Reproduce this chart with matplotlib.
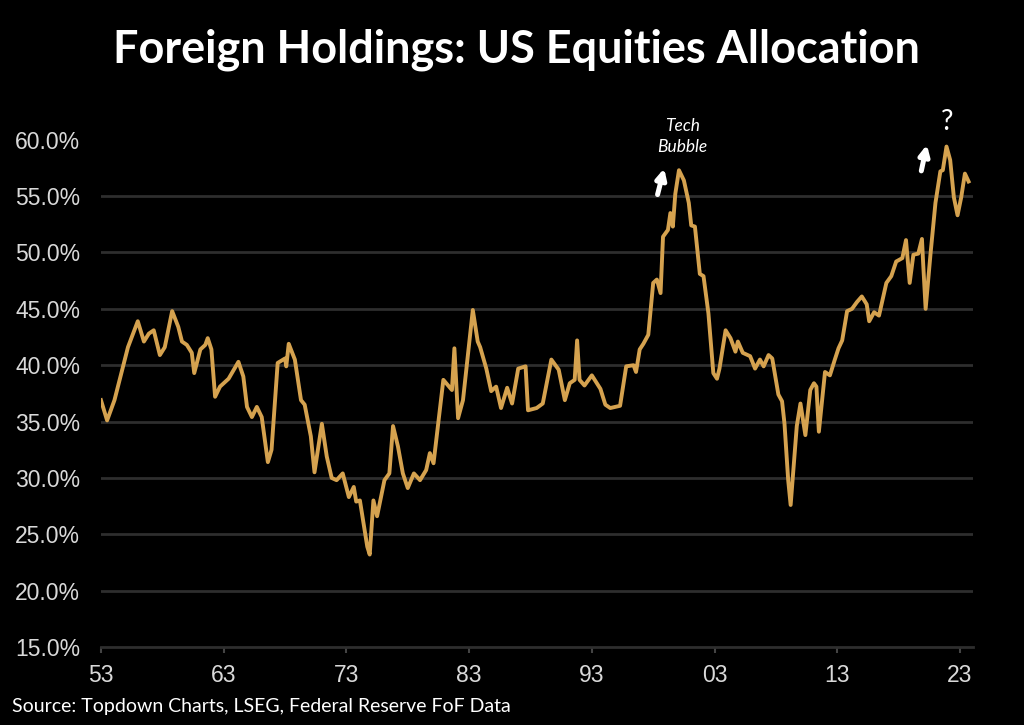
import matplotlib
matplotlib.use("Agg")
import matplotlib.pyplot as plt
from matplotlib.ticker import FuncFormatter

# valeurs (année décimale, part en %)
years = [1953.0, 1953.5, 1954.1, 1955.2, 1956.0, 1956.5, 1956.9, 1957.3, 1957.8, 1958.2,
         1958.8, 1959.3, 1959.6, 1960.0, 1960.4, 1960.6, 1961.1, 1961.5, 1961.7, 1962.0,
         1962.3, 1962.7, 1963.4, 1964.2, 1964.6, 1964.9, 1965.3, 1965.7, 1966.1, 1966.6,
         1966.9, 1967.4, 1968.0, 1968.1, 1968.3, 1968.8, 1969.3, 1969.6, 1970.1, 1970.4,
         1971.0, 1971.4, 1971.8, 1972.2, 1972.7, 1973.2, 1973.6, 1973.8, 1974.1, 1974.7,
         1974.9, 1975.2, 1975.5, 1976.1, 1976.5, 1976.8, 1977.2, 1977.6, 1978.0, 1978.5,
         1979.0, 1979.5, 1979.8, 1980.1, 1980.9, 1981.6, 1981.8, 1982.1, 1982.5, 1983.3,
         1983.7, 1983.9, 1984.4, 1984.8, 1985.2, 1985.6, 1986.1, 1986.5, 1987.0, 1987.6,
         1987.8, 1988.5, 1989.0, 1989.7, 1990.3, 1990.8, 1991.2, 1991.6, 1991.8, 1992.0,
         1992.4, 1993.0, 1993.7, 1994.1, 1994.5, 1995.3, 1995.8, 1996.4, 1996.6, 1996.9,
         1997.2, 1997.6, 1998.0, 1998.3, 1998.6, 1998.8, 1999.2, 1999.4, 1999.6, 1999.8,
         2000.1, 2000.5, 2000.9, 2001.1, 2001.4, 2001.8, 2002.1, 2002.5, 2002.9, 2003.2,
         2003.4, 2003.9, 2004.3, 2004.7, 2004.9, 2005.3, 2005.9, 2006.3, 2006.7, 2007.0,
         2007.4, 2007.7, 2008.2, 2008.5, 2008.7, 2009.0, 2009.2, 2009.4, 2009.7, 2010.0,
         2010.4, 2010.8, 2011.1, 2011.3, 2011.5, 2012.0, 2012.4, 2012.8, 2013.1, 2013.4,
         2013.8, 2014.2, 2014.6, 2015.0, 2015.4, 2015.6, 2016.0, 2016.4, 2017.0, 2017.4,
         2017.8, 2018.3, 2018.6, 2018.9, 2019.2, 2019.6, 2019.9, 2020.0, 2020.2, 2020.6,
         2021.0, 2021.4, 2021.6, 2021.9, 2022.2, 2022.5, 2022.8, 2023.1, 2023.4, 2023.7]
share = [36.9, 35.1, 36.9, 41.6, 43.9, 42.1, 42.8, 43.1, 40.9, 41.6,
         44.8, 43.4, 42.1, 41.8, 41.1, 39.3, 41.4, 41.8, 42.4, 41.4,
         37.2, 38.1, 38.8, 40.3, 39.0, 36.3, 35.4, 36.3, 35.4, 31.4,
         32.5, 40.2, 40.6, 39.9, 41.9, 40.5, 36.9, 36.5, 33.7, 30.5,
         34.8, 31.9, 30.0, 29.8, 30.4, 28.3, 29.2, 27.9, 28.0, 23.9,
         23.2, 28.0, 26.6, 29.8, 30.4, 34.6, 32.8, 30.4, 29.1, 30.4,
         29.8, 30.7, 32.2, 31.3, 38.7, 37.8, 41.5, 35.3, 36.9, 44.9,
         42.1, 41.6, 39.7, 37.7, 38.1, 36.2, 38.0, 36.6, 39.7, 39.9,
         36.0, 36.2, 36.6, 40.5, 39.6, 36.9, 38.4, 38.7, 42.2, 38.7,
         38.2, 39.1, 37.9, 36.5, 36.2, 36.4, 39.9, 40.0, 39.4, 41.4,
         41.9, 42.7, 47.3, 47.6, 46.4, 51.4, 52.0, 53.5, 52.3, 55.2,
         57.3, 56.4, 54.4, 52.4, 52.3, 48.1, 47.9, 44.6, 39.3, 38.8,
         39.7, 43.1, 42.4, 41.2, 42.1, 41.1, 40.8, 39.7, 40.5, 39.9,
         40.9, 40.6, 37.4, 36.8, 34.8, 29.8, 27.6, 30.4, 34.6, 36.6,
         33.8, 37.8, 38.4, 38.1, 34.1, 39.4, 39.1, 40.5, 41.5, 42.2,
         44.8, 45.0, 45.6, 46.1, 45.4, 43.9, 44.7, 44.4, 47.3, 47.9,
         49.2, 49.5, 51.1, 47.3, 49.8, 49.9, 51.2, 49.0, 45.0, 49.9,
         54.4, 57.2, 57.3, 59.4, 58.2, 54.9, 53.3, 54.9, 57.0, 56.3]

x_ticks = [1953, 1963, 1973, 1983, 1993, 2003, 2013, 2023]
x_labels = ["53", "63", "73", "83", "93", "03", "13", "23"]
y_ticks = [15, 20, 25, 30, 35, 40, 45, 50, 55, 60]

gold = '#d5a24f'
grid_col = '#2e2e2e'

fig = plt.figure(figsize=(10.24, 7.25), dpi=100, facecolor='black')
ax = fig.add_axes([0.0986, 0.1076, 0.8516, 0.6996])
ax.set_facecolor('black')

# grille horizontale (sauf 60%)
for v in y_ticks[1:-1]:
    ax.axhline(v, color=grid_col, lw=2.0, zorder=1)

ax.plot(years, share, color=gold, lw=2.8, solid_joinstyle='round', zorder=3)

ax.set_xlim(1953, 2024.06)
ax.set_ylim(15, 60)
ax.set_yticks(y_ticks)
ax.yaxis.set_major_formatter(FuncFormatter(lambda v, p: f"{v:.1f}%"))
ax.set_xticks(x_ticks)
ax.set_xticklabels(x_labels)

for s in ['top', 'right', 'left']:
    ax.spines[s].set_visible(False)
ax.spines['bottom'].set_color(grid_col)
ax.spines['bottom'].set_linewidth(2.0)

ax.tick_params(axis='y', length=0, pad=15, colors='#d9d9d9', labelsize=16.5)
ax.tick_params(axis='x', length=4, width=1.5, color='#444444', pad=8,
               labelcolor='#d9d9d9', labelsize=16.5)
for lab in ax.get_xticklabels() + ax.get_yticklabels():
    lab.set_family('Liberation Sans')

# annotations
ax.text(2000.4, 60.3, "Tech\nBubble", color='white', fontsize=12.5, style='italic',
        family='Lato', ha='center', va='center', linespacing=1.35, clip_on=False)
ax.annotate("", xy=(1998.95, 57.7), xytext=(1998.3, 54.9),
            arrowprops=dict(arrowstyle='-|>', color='white', lw=3.6, mutation_scale=15),
            annotation_clip=False)
ax.annotate("", xy=(2020.35, 59.8), xytext=(2019.8, 57.0),
            arrowprops=dict(arrowstyle='-|>', color='white', lw=3.6, mutation_scale=15),
            annotation_clip=False)
ax.text(2021.95, 61.6, "?", color='white', fontsize=20, family='Lato',
        ha='center', va='center', clip_on=False)

fig.text(0.504, 0.931, "Foreign Holdings: US Equities Allocation", color='white',
         fontsize=32.4, fontweight='bold', family='Lato', ha='center', va='center')
fig.text(0.012, 0.025, "Source: Topdown Charts, LSEG, Federal Reserve FoF Data",
         color='white', fontsize=14, family='Lato', ha='left', va='center')

fig.savefig('out.png', dpi=100, facecolor='black')
